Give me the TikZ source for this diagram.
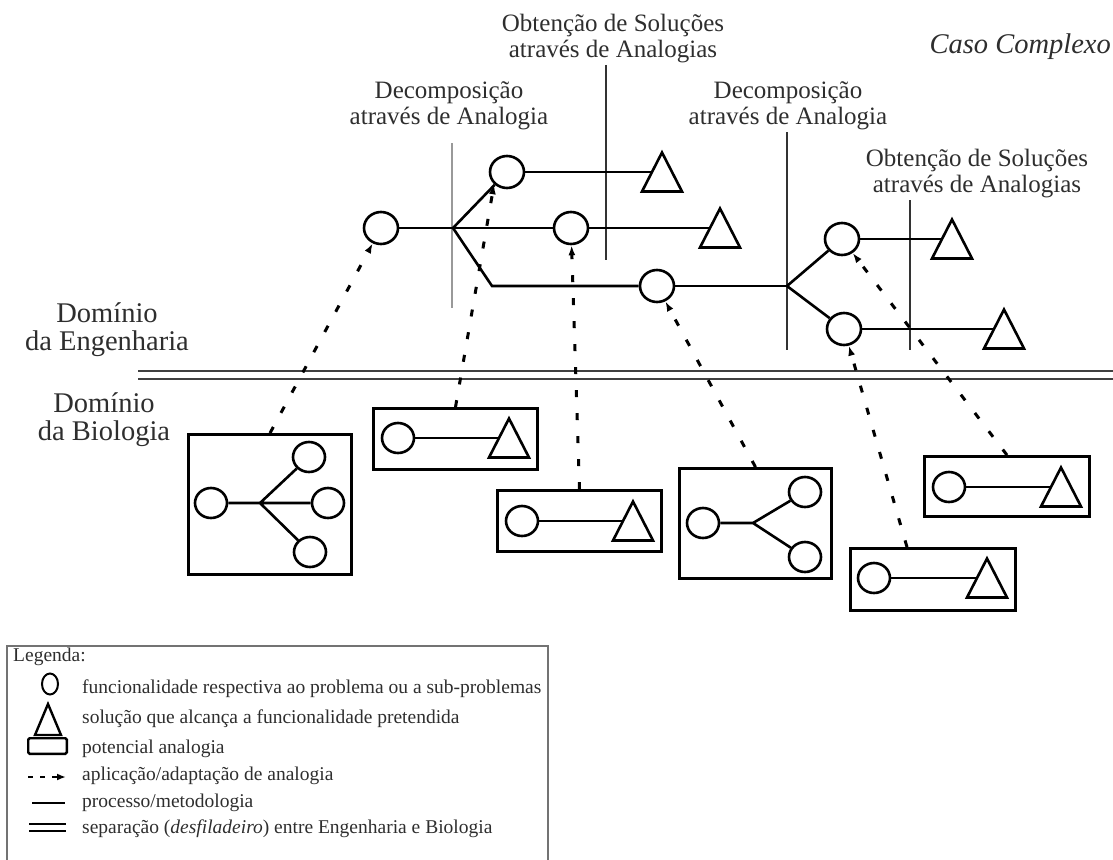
\documentclass[tikz,border=0pt]{standalone}
\usepackage{fontspec}
\setmainfont{Liberation Serif}
\usetikzlibrary{shapes.geometric,arrows.meta}

\definecolor{labelgray}{HTML}{2E2E2E}

\tikzset{
  fn/.style={ellipse,draw,line width=2.6pt,minimum width=34pt,minimum height=32pt,inner sep=0pt},
  fnsmall/.style={fn,minimum width=32pt,minimum height=30pt},
  proc/.style={line width=2.6pt},
  analogybox/.style={draw,line width=2.8pt,inner sep=0pt},
  analogy/.style={line width=3pt,dash pattern=on 7pt off 16pt,-{Latex[length=10pt,width=7pt]}},
  phase/.style={line width=1.5pt,draw=black!80},
  phasegray/.style={line width=2pt,draw=black!40},
  % multi-line labels: the base anchor sits on the last line
  lbl/.style={font=\fontsize{25}{26}\selectfont,text=labelgray,align=center,inner sep=0pt,anchor=base},
  dom/.style={font=\fontsize{28.5}{28}\selectfont,text=labelgray,align=center,inner sep=0pt,anchor=base},
  legtext/.style={font=\fontsize{19.5}{20}\selectfont,text=labelgray,anchor=base west,inner sep=0pt},
  sol/.pic={
    \draw[line width=2.6pt,line join=miter] (-20,19.5) -- (0,-19.5) -- (20,19.5) -- cycle;
    \coordinate (-w) at (-10,0);
  }
}

\begin{document}
\begin{tikzpicture}[x=1pt,y=-1pt]
\useasboundingbox (0,0) rectangle (1113,859);

% ---- phase labels and dividers
\node[lbl] (obt1) at (613,58) {Obtenção de Soluções\\através de Analogias};
\node[lbl] (dec1) at (449,124) {Decomposição\\através de Analogia};
\node[lbl] (dec2) at (788,124) {Decomposição\\através de Analogia};
\node[lbl] (obt2) at (977,192) {Obtenção de Soluções\\através de Analogias};
\node[font=\fontsize{28.5}{30}\selectfont\itshape,text=labelgray,anchor=base east,inner sep=0pt] (caso) at (1111,54) {Caso Complexo};

\draw[phasegray] (452,143) -- (452,308);
\draw[phase] (606,65) -- (606,260);
\draw[phase] (787,132) -- (787,350);
\draw[phase] (910,200) -- (910,350);

% ---- domains
\node[dom] (deng) at (107,350) {Domínio\\da Engenharia};
\node[dom] (dbio) at (104,440) {Domínio\\da Biologia};
\draw[line width=2.2pt,draw=black!75] (138,371) -- (1113,371) (138,379) -- (1113,379);

% ---- engineering process
\node[fn] (c0) at (381,228) {};
\node[fn] (c1) at (507,172) {};
\node[fn] (c2) at (571,228) {};
\node[fn] (c3) at (657,286) {};
\node[fn] (c4) at (842,239) {};
\node[fn] (c5) at (844,329) {};
\coordinate (j1) at (453,228);
\coordinate (k1) at (492,286);
\coordinate (j2) at (787,286);
\pic (t1) at (662,172) {sol};
\pic (t2) at (720,228) {sol};
\pic (t3) at (952,239) {sol};
\pic (t4) at (1004,329) {sol};

\draw[proc] (c0) -- (j1);
\draw[proc] (j1) -- (c1);
\draw[proc] (j1) -- (c2);
\draw[proc] (j1) -- (k1) -- (c3);
\draw[proc] (c3) -- (j2);
\draw[proc] (j2) -- (c4);
\draw[proc] (j2) -- (c5);
\draw[proc] (c1) -- (t1-w);
\draw[proc] (c2) -- (t2-w);
\draw[proc] (c4) -- (t3-w);
\draw[proc] (c5) -- (t4-w);

% ---- biological analogies
\node[analogybox,minimum width=163pt,minimum height=140pt] (bx1) at (270,504.5) {};
\node[fnsmall] (p10) at (211,503) {};
\node[fnsmall] (p11) at (309,457) {};
\node[fnsmall] (p12) at (328,503) {};
\node[fnsmall] (p13) at (310,552) {};
\coordinate (j3) at (260,503);
\draw[proc] (p10) -- (j3) (j3) -- (p11) (j3) -- (p12) (j3) -- (p13);

\node[analogybox,minimum width=164pt,minimum height=61pt] (bx2) at (455.5,439) {};
\node[fnsmall] (p20) at (398,438) {};
\pic (s2) at (509,438) {sol};
\draw[proc] (p20) -- (s2-w);

\node[analogybox,minimum width=164pt,minimum height=61pt] (bx3) at (579.5,521) {};
\node[fnsmall] (p30) at (522,521) {};
\pic (s3) at (633,521) {sol};
\draw[proc] (p30) -- (s3-w);

\node[analogybox,minimum width=152pt,minimum height=110pt] (bx4) at (755.5,523.5) {};
\node[fnsmall] (p40) at (703,523) {};
\node[fnsmall] (p41) at (805,492) {};
\node[fnsmall] (p42) at (805,557) {};
\coordinate (j4) at (753,523);
\draw[proc] (p40) -- (j4) (j4) -- (p41) (j4) -- (p42);

\node[analogybox,minimum width=165pt,minimum height=60pt] (bx5) at (1007,486.5) {};
\node[fnsmall] (p50) at (949,487) {};
\pic (s5) at (1061,487) {sol};
\draw[proc] (p50) -- (s5-w);

\node[analogybox,minimum width=165pt,minimum height=62pt] (bx6) at (933,579.5) {};
\node[fnsmall] (p60) at (874,578) {};
\pic (s6) at (987,578) {sol};
\draw[proc] (p60) -- (s6-w);

% ---- analogy applications
\draw[analogy] (bx1.north) -- (c0);
\draw[analogy] (bx2.north) -- (c1.south west);
\draw[analogy] (bx3.north) -- (c2);
\draw[analogy] (bx4.north) -- (c3);
\draw[analogy] ([xshift=-26pt]bx6.north) -- (c5);
\draw[analogy] (bx5.north) -- (c4);

% ---- legend
\draw[draw=black!55,line width=1.2pt] (7,870) -- (7,646) -- (548,646) -- (548,870);
\node[legtext] (lg0) at (13,661) {Legenda:};
\draw[line width=2pt] (50,684) ellipse [x radius=8pt,y radius=10.5pt];
\draw[line width=2.4pt,line join=miter] (35,735) -- (48,704) -- (61,735) -- cycle;
\draw[line width=2.4pt,rounded corners=1.5pt] (28.2,738.2) rectangle (66.8,753.8);
\draw[line width=2.5pt,dash pattern=on 5pt off 7pt,-{Latex[length=9pt,width=7pt]}] (28,777) -- (66,777);
\draw[line width=2pt] (32,803) -- (65,803);
\draw[line width=2pt] (29,824) -- (66,824) (29,831) -- (66,831);
\node[legtext] (lg1) at (82,693) {funcionalidade respectiva ao problema ou a sub-problemas};
\node[legtext] (lg2) at (82,723) {solução que alcança a funcionalidade pretendida};
\node[legtext] (lg3) at (82,753) {potencial analogia};
\node[legtext] (lg4) at (82,780) {aplicação/adaptação de analogia};
\node[legtext] (lg5) at (82,807) {processo/metodologia};
\node[legtext] (lg6) at (82,833) {separação (\textit{desfiladeiro}) entre Engenharia e Biologia};
\end{tikzpicture}
\end{document}
